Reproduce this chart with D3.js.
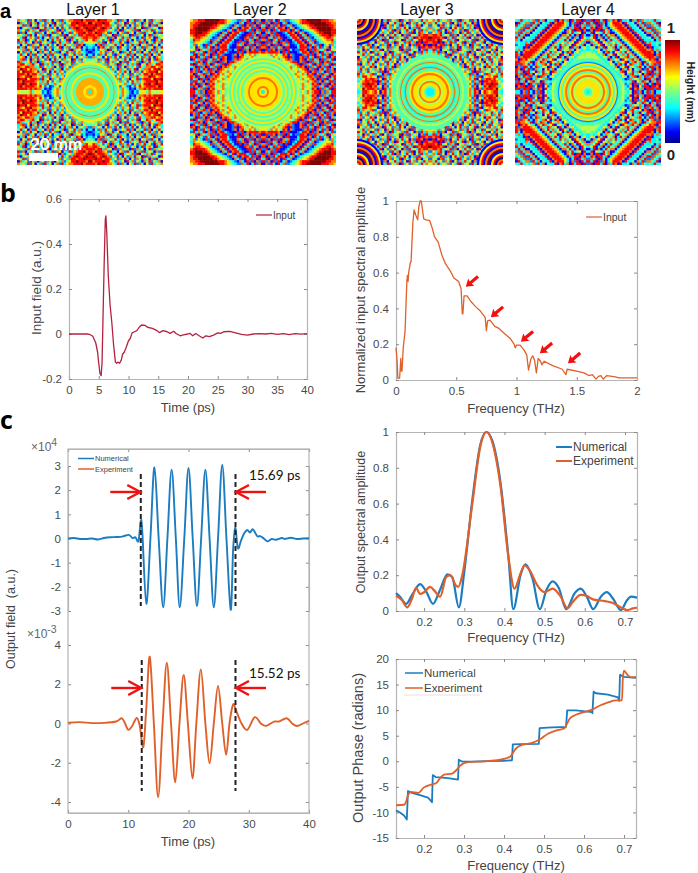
<!DOCTYPE html>
<html>
<head>
<meta charset="utf-8">
<script src="https://cdnjs.cloudflare.com/ajax/libs/d3/7.8.5/d3.min.js"></script>
<style>
    body { margin: 0; background: white; }
    svg { display: block; }
    text { font-family: "Liberation Sans", Arial, sans-serif; fill: #444; }
    .lato { font-family: Lato, sans-serif; fill: #111; }
    .letter { font-family: "Open Sans", sans-serif; font-weight: 700; font-size: 25px; fill: black; }
    .tick text { font-size: 11.5px; fill: #4a4a4a; font-family: "Liberation Sans", Arial, sans-serif; }
    .tick line { stroke: #8a8a8a; }
    .domain { stroke: #b4b4b4; }
</style>
</head>
<body>
<div id="my_dataviz"></div>

<script>
    // height maps: lower right quadrant, read by eye, digit = height in ninths, mirrored into the other three
    const layer1Grid = [
        "55555 55555 55476 42132 56647 55556", "55555 55555 55375 31214 77878 78888", "55555 55555 55264 21426 86788 88798",
        "55555 55555 55647 34273 75889 78988", "55555 55555 54736 25847 36788 88978", "55555 55555 47263 71648 27888 69889",
        "55555 55555 26374 62738 46779 88678", "55555 55556 37426 38263 74887 97888", "55555 55554 26738 41627 38678 88968",
        "55555 55637 41736 27481 63778 68897", "55555 54726 38261 74362 84377 88678", "55556 37264 71836 24738 16487 36887",
        "55473 62847 36172 83647 21738 64378", "44627 38164 72638 41726 38471 62873", "27364 16273 84162 73841 62738 41763",
        "31427 38462 17364 82716 34827 16384", "12347 62748 36127 48362 71648 37261", "21326 47183 62734 16283 74163 82746",
        "32417 83627 41863 27416 38274 61738", "43178 27364 83716 24837 16472 83614", "56473 81627 43862 17364 82716 38472",
        "68736 24718 36274 83162 74836 21748", "78874 63827 16483 72641 38267 41836", "88788 37461 82736 41827 36148 27364",
        "87988 76283 41672 83614 72836 41728", "98788 87364 27183 64728 16374 82637", "89878 98726 38416 27384 61827 36418",
        "88988 78873 62748 31627 48361 72846", "97888 98864 27361 84726 31748 26371", "88798 88776 38274 16382 74162 83647"
    ]
    const layer2Grid = [
        "55555 55555 55555 46475 78817 27388", "55555 55555 55556 47564 87182 73818", "55555 55555 55555 57465 78273 81782",
        "55555 55555 55555 47564 87817 28178", "55555 55555 55556 56475 78271 73882", "55555 55555 55546 47567 87182 81738",
        "55555 55555 55567 46578 72817 38178", "55555 55555 55476 57487 81728 73817", "55555 55555 56467 46781 78273 18278",
        "55555 55555 47564 67817 28178 38271", "55555 55546 57467 87182 73817 28173", "55555 55674 65478 18273 81782 73818",
        "55555 46756 47881 72818 27381 78273", "55555 57467 87211 78172 83718 27381", "55547 64678 18211 78283 71827 38178",
        "66475 76487 17211 12782 81738 27183", "87888 87182 81112 38871 82718 37382", "18287 17281 83122 88718 28734 71846",
        "78172 83718 81113 88827 18382 47163", "82718 28173 71123 88718 37281 36274", "18283 71872 81238 87183 71234 56673",
        "72817 38218 11388 71837 28345 67784", "81738 27811 23887 18372 13456 78875", "28172 88112 38871 83712 34678 88987",
        "17382 81123 88718 37123 46788 99988", "82718 23888 71837 12345 67899 99988", "71828 38871 83712 34567 88999 99987",
        "38172 87182 37123 45678 89999 99887", "82718 28137 12346 78889 99999 98877", "17283 18372 23456 78899 99998 88776"
    ]
    const layer3Grid = [
        "55555 55555 55555 57487 16876 78843", "55555 55555 55555 67381 72788 87964", "55555 55555 55555 46271 63879 88736",
        "55555 55555 55555 57382 71788 98845", "55555 55555 55555 46273 81887 88763", "55555 55555 55555 67481 62788 78634",
        "55555 55555 55555 47372 81467 68847", "55555 55555 55556 38271 36287 46738", "55555 55555 55547 63818 27364 83627",
        "55555 55555 55463 72716 84736 27483", "55555 55555 46371 84726 36178 46273", "55555 55547 36271 63847 26384 73618",
        "55555 54628 37416 73826 47163 84627", "55555 47361 74826 38472 61738 26478", "55546 38274 16837 26481 73628 47361",
        "66473 62817 46273 84716 38264 73846", "47382 71638 27463 81726 47381 62748", "38271 46382 71846 37261 84736 27163",
        "87881 73627 48163 72846 31728 46837", "18178 82716 38472 61837 26417 83627", "78818 17387 26481 73826 47163 82741",
        "88798 46273 81647 36281 74826 37164", "98887 81738 26473 81627 38461 72836", "78878 36482 71638 47261 83746 27384",
        "26378 41827 36174 82637 41826 37481", "47382 61748 36271 84736 27481 63728", "73648 27316 84726 37418 62738 41672",
        "26417 83624 71836 27481 63748 27361", "74836 27481 62738 46172 83647 18263", "57483 64726 38174 62837 41627 38472"
    ]
    const layer4Grid = [
        "55555 55555 55555 43518 27138 27133", "55555 55555 55555 34817 83718 88288", "55555 55555 55555 32618 16288 18871",
        "55555 55555 55555 23718 27381 38188", "55555 55555 55554 34381 63874 17382", "55555 55555 55543 12736 47318 83718",
        "55555 55555 55436 41378 17382 78371", "55555 55555 54346 13784 36178 18278", "55555 55555 43478 16483 71638 81738",
        "55555 55554 36417 38614 37128 38178", "55555 55543 47136 81463 78413 88271", "55555 55436 41783 16873 47138 47828",
        "55555 54346 13746 81378 47183 67788", "55555 43417 36418 63784 71346 87817", "55554 36471 38164 78347 13678 88728",
        "55543 47136 81637 38471 36788 88178", "54436 41783 16473 84713 67888 87138", "34346 13746 38164 47136 78887 78373",
        "36417 38164 71384 71367 88871 81334", "41736 81637 48347 13678 88718 83342", "17368 16473 63471 36788 87183 73343",
        "73681 47138 34713 67888 71833 34137", "36813 71384 47136 78887 18334 41738", "13817 13847 71367 88871 83341 17383",
        "38164 38471 13678 88718 33417 73827", "17188 18471 36788 87183 34173 38274", "38718 83713 67888 71833 41738 82743",
        "27381 83136 78887 18334 17382 27438", "83818 27136 88871 83341 73827 74381", "28188 38173 87183 34173 82743 43834"
    ]
    // central rings of each layer, outermost first: radius (mm) and height (ninths)
    const layer1RingRadii = [21, 19.6, 17.5, 17.1, 15.7, 13.9, 12.5, 10, 5, 2.9, 1.4]
    const layer1RingValues = [6, 4, 7, 4, 4, 6, 4, 6.5, 6, 6.5, 3]
    const layer2RingRadii = [25.7, 24.3, 22.9, 21.4, 20, 18.6, 17.1, 15.7, 14.3, 12.9, 10.7, 9.3, 4.3, 2.9, 1.4]
    const layer2RingValues = [5, 4, 6, 4, 5, 4, 6, 4, 5, 6, 7, 6, 7, 6, 3]
    const layer3RingRadii = [27.1, 24.3, 22.9, 21.4, 20.7, 18.6, 17.9, 17.1, 15, 13.6, 12.1, 9.3, 7.9, 6.8, 4.3, 2.9]
    const layer3RingValues = [4, 5, 4, 7, 4, 3, 7, 4, 6, 7, 6, 5, 7, 6, 4, 3]
    const layer4RingRadii = [24.3, 22.1, 21.4, 20.7, 19.3, 17.9, 16.4, 15, 13.6, 12.1, 10.7, 8.6, 4.3, 2.9, 1.4]
    const layer4RingValues = [4, 3, 2, 6, 4, 6, 7, 4, 6, 7, 5, 6, 5, 4, 3]
    // layer 3 has fringes centred on its corners
    const layer3CornerRadii = [18.6, 17.1, 15.7, 14.3, 12.9, 11.4, 10, 8.6, 7.1, 5.7, 4.3, 2.9, 1.4]
    const layer3CornerValues = [1, 6, 8, 1, 7, 9, 1, 6, 8, 0, 7, 8, 5]
    const layerNames = ["Layer 1", "Layer 2", "Layer 3", "Layer 4"]

    const jetHeights = [0, 0.11, 0.34, 0.5, 0.64, 0.89, 1]
    const jetColours = ["#00008f", "#0000ff", "#00ffff", "#7fff7f", "#ffff00", "#ff0000", "#800000"]

    // panel b
    const inputTime = [0, 3, 3.5, 4, 4.5, 4.8, 5, 5.2, 5.4, 5.55, 5.7, 5.9, 6.1, 6.2, 6.35, 6.6, 6.9, 7.2, 7.5, 7.8, 8, 8.2, 8.5, 8.8, 9, 9.3, 9.6, 10, 10.3, 10.6, 11, 11.4, 11.8, 12.2, 12.8, 13.2, 14, 14.8, 15.2, 15.8, 16.5, 17, 17.6, 18, 18.7, 19.2, 20, 20.3, 20.8, 21.3, 22, 22.5, 23, 23.6, 24.3, 25, 25.5, 26, 27, 28, 29, 30, 31, 32, 33, 34, 35, 36, 37, 38, 39, 40]
    const inputField = [0, 0, -0.002, -0.01, -0.04, -0.08, -0.13, -0.175, -0.185, -0.13, 0.05, 0.3, 0.51, 0.525, 0.45, 0.26, 0.13, 0.05, -0.05, -0.125, -0.13, -0.125, -0.13, -0.115, -0.09, -0.08, -0.06, -0.03, -0.02, 0.005, 0.01, 0.015, 0.03, 0.04, 0.038, 0.03, 0.025, 0.015, 0.006, 0.015, 0.01, 0.003, 0.012, 0.002, -0.008, -0.004, 0, 0.003, -0.008, 0.002, -0.01, -0.018, -0.008, -0.012, -0.005, 0.005, 0.003, 0.01, 0.012, 0.005, -0.002, -0.005, 0, 0.002, 0, 0.003, -0.002, 0.002, -0.003, 0.002, -0.001, 0.002]
    const inputFreq = [0, 0.01, 0.015, 0.03, 0.04, 0.045, 0.05, 0.06, 0.075, 0.09, 0.095, 0.1, 0.105, 0.12, 0.125, 0.14, 0.15, 0.165, 0.18, 0.19, 0.2, 0.21, 0.23, 0.25, 0.28, 0.3, 0.32, 0.35, 0.38, 0.41, 0.45, 0.48, 0.52, 0.54, 0.55, 0.555, 0.565, 0.59, 0.62, 0.66, 0.7, 0.74, 0.75, 0.76, 0.78, 0.82, 0.85, 0.9, 0.95, 0.98, 0.99, 1, 1.03, 1.06, 1.085, 1.1, 1.12, 1.135, 1.15, 1.165, 1.18, 1.2, 1.21, 1.23, 1.3, 1.38, 1.41, 1.42, 1.5, 1.56, 1.6, 1.63, 1.66, 1.68, 1.7, 1.72, 1.75, 1.82, 1.85, 1.9, 2]
    const inputAmp = [0.18, 0.1, 0.01, 0.01, 0.12, 0.05, 0.05, 0.18, 0.27, 0.55, 0.585, 0.55, 0.6, 0.66, 0.66, 0.88, 0.95, 0.92, 0.895, 0.97, 1, 1, 0.9, 0.895, 0.89, 0.85, 0.8, 0.77, 0.7, 0.65, 0.61, 0.57, 0.55, 0.51, 0.37, 0.37, 0.47, 0.47, 0.44, 0.41, 0.385, 0.35, 0.275, 0.33, 0.335, 0.3, 0.29, 0.26, 0.23, 0.2, 0.18, 0.195, 0.195, 0.17, 0.14, 0.055, 0.12, 0.135, 0.11, 0.04, 0.12, 0.105, 0.085, 0.105, 0.08, 0.06, 0.03, 0.06, 0.05, 0.04, 0.025, 0.03, 0.005, 0.02, 0.025, 0.005, 0.025, 0.018, 0.012, 0.012, 0.012]
    const dipFreq = [0.579, 0.787, 1.036, 1.194, 1.427]
    const dipAmp = [0.521, 0.351, 0.214, 0.149, 0.093]

    // panel c, output pulses
    const numTime = [0, 1, 2, 3, 4, 5, 6, 7, 8, 9, 10.1, 10.7, 11.2, 11.7, 12.1, 12.35, 13, 13.7, 14.35, 15.05, 15.8, 16.5, 17.2, 17.9, 18.55, 19.3, 20, 20.7, 21.4, 22.1, 22.8, 23.5, 24.2, 24.9, 25.6, 26.3, 27, 27.4, 27.75, 28.2, 28.7, 29.2, 29.75, 30.2, 30.7, 31.4, 31.9, 32.5, 33.1, 33.8, 34.5, 35.5, 36, 37, 38, 39, 40]
    const numField = [0, 0.02, -0.02, -0.02, 0, -0.04, 0.02, 0.05, 0.06, 0.08, 0.15, 0.02, 0.05, -0.1, 0.75, 0.2, -2.7, 0.1, 2.94, 0, -2.85, 0, 2.85, 0, -2.85, 0, 2.92, 0, -2.8, 0, 2.85, 0, -2.85, 0, 3.05, 0, -2.95, -0.5, 0.45, -0.4, -0.1, 0.2, 0.35, 0.25, 0.38, 0.1, 0.1, 0, -0.12, -0.02, -0.05, 0.02, -0.02, 0.03, -0.02, 0, 0.01]
    const expTime = [0, 2, 4, 6, 8, 8.9, 9.4, 10, 10.7, 11.4, 11.9, 12.5, 13, 13.57, 14.25, 14.96, 15.7, 16.4, 17.1, 17.8, 18.5, 19.2, 19.9, 20.66, 21.3, 22.05, 22.8, 23.5, 24.2, 24.9, 25.6, 26.25, 26.8, 27.4, 27.9, 28.8, 29.75, 31, 32, 32.9, 34.2, 35, 36.3, 37.2, 38, 39, 40]
    const expField = [0.04, 0.07, 0.02, 0.03, 0.1, 0.27, 0.05, -0.32, -0.1, 0.28, -0.1, -1.2, 0.8, 3.4, 0, -3.76, 0, 3.1, 0, -3, 0, 2.47, 0, -2.8, 0, 2.76, 0, -2.03, 0, 1.91, 0, -1.6, 0, 0.97, 0.65, 0, -0.32, 0.32, 0, -0.12, 0.1, 0.1, 0.27, 0, -0.13, 0, 0.13]
    const numEdges = [12.08, 27.8]
    const expEdges = [12.24, 27.8]

    // panel c, output spectra
    const numSpecFreq = [0.13, 0.14, 0.155, 0.17, 0.19, 0.205, 0.222, 0.24, 0.258, 0.27, 0.2865, 0.3, 0.32, 0.34, 0.355, 0.37, 0.39, 0.41, 0.422, 0.44, 0.452, 0.47, 0.488, 0.505, 0.52, 0.535, 0.554, 0.575, 0.59, 0.605, 0.621, 0.64, 0.655, 0.67, 0.69, 0.705, 0.715, 0.73]
    const numSpecAmp = [0.1, 0.08, 0.04, 0.09, 0.15, 0.11, 0.04, 0.12, 0.205, 0.19, 0.02, 0.22, 0.62, 0.93, 1, 0.95, 0.72, 0.3, 0.01, 0.2, 0.26, 0.18, 0.01, 0.12, 0.165, 0.13, 0.01, 0.1, 0.125, 0.08, 0.01, 0.08, 0.105, 0.07, 0.005, 0.06, 0.08, 0.075]
    const expSpecFreq = [0.13, 0.145, 0.158, 0.17, 0.18, 0.19, 0.2, 0.215, 0.225, 0.24, 0.255, 0.265, 0.28, 0.285, 0.295, 0.32, 0.34, 0.355, 0.37, 0.39, 0.41, 0.425, 0.44, 0.45, 0.465, 0.48, 0.5, 0.52, 0.54, 0.557, 0.57, 0.59, 0.605, 0.62, 0.65, 0.67, 0.69, 0.705, 0.72, 0.73]
    const expSpecAmp = [0.085, 0.06, 0.02, 0.07, 0.13, 0.095, 0.105, 0.135, 0.115, 0.08, 0.19, 0.2, 0.14, 0.135, 0.2, 0.6, 0.92, 1, 0.94, 0.7, 0.3, 0.125, 0.21, 0.255, 0.22, 0.15, 0.105, 0.125, 0.08, 0.015, 0.05, 0.09, 0.085, 0.065, 0.055, 0.045, 0.02, 0.005, 0.015, 0.018]

    // panel c, output phase
    const numPhaseFreq = [0.13, 0.14, 0.15, 0.157, 0.16, 0.17, 0.19, 0.21, 0.22, 0.222, 0.23, 0.26, 0.285, 0.287, 0.295, 0.32, 0.36, 0.4, 0.42, 0.422, 0.44, 0.487, 0.489, 0.52, 0.555, 0.558, 0.58, 0.62, 0.621, 0.624, 0.63, 0.66, 0.685, 0.688, 0.69, 0.7, 0.73]
    const numPhase = [-9.6, -10, -10.6, -11.4, -5.8, -6.2, -6.6, -7.1, -8, -2.7, -3.1, -3.3, -3.6, 0.3, -0.05, -0.05, 0.05, 0.1, 0.2, 3.3, 3.35, 3.4, 6.5, 6.65, 6.7, 9.95, 9.95, 9.6, 9.4, 13.6, 13.3, 13.05, 12.5, 11.8, 16.9, 16.5, 16.3]
    const expPhaseFreq = [0.13, 0.15, 0.155, 0.16, 0.168, 0.185, 0.2, 0.22, 0.23, 0.24, 0.25, 0.27, 0.28, 0.29, 0.31, 0.35, 0.39, 0.415, 0.43, 0.445, 0.47, 0.49, 0.51, 0.53, 0.55, 0.565, 0.58, 0.6, 0.62, 0.64, 0.66, 0.68, 0.695, 0.697, 0.7, 0.71, 0.72, 0.73]
    const expPhase = [-8.6, -8.5, -8, -6.6, -6, -6.2, -5.1, -4.5, -4.3, -3.3, -2.6, -2.4, -1.8, -0.9, -0.15, 0, 0.3, 0.9, 2.5, 3.2, 3.6, 4.3, 5.4, 6, 6.4, 8.4, 9.1, 9.6, 10.1, 10.9, 11.5, 11.9, 11.9, 16, 17.7, 16.8, 16.4, 16.5]

    // tick labels
    const ticksInputField = [-0.2, 0, 0.2, 0.4, 0.6]
    const ticksTime5 = [0, 5, 10, 15, 20, 25, 30, 35, 40]
    const ticksTime10 = [0, 10, 20, 30, 40]
    const ticksAmp = [0, 0.2, 0.4, 0.6, 0.8, 1]
    const ticksInputFreq = [0, 0.5, 1, 1.5, 2]
    const ticksNum = [-3, -2, -1, 0, 1, 2, 3]
    const ticksExp = [-4, -2, 0, 2, 4]
    const ticksOutFreq = [0.2, 0.3, 0.4, 0.5, 0.6, 0.7]
    const ticksPhase = [-15, -10, -5, 0, 5, 10, 15, 20]

    const RED_WINE = "#b5213f"
    const ORANGE = "#e0602a"
    const BLUE = "#1b7cc0"
    const PANEL_HALF_MM = 52.14
    const QUADRANT_CELLS = 30

    var svg = d3.select("#my_dataviz").append("svg")
        .attr("width", 698)
        .attr("height", 873)

    var defs = svg.append("defs")
    defs.append("filter").attr("id", "soft")
        .append("feGaussianBlur").attr("stdDeviation", 0.55)

    var jet = d3.scaleLinear().domain(jetHeights).range(jetColours)

    // one height map. cells come from the digit grid, rings go on top
    function heatPanel(left, top, grid, ringRadii, ringValues, cornerRadii, cornerValues, id) {
        var size = 146
        var n = QUADRANT_CELLS
        var rows = grid.map(function (s) { return s.replace(/ /g, "") })
        var band = d3.scaleBand().domain(d3.range(2 * n)).range([0, size])
        var mm = d3.scaleLinear().domain([-PANEL_HALF_MM, PANEL_HALF_MM]).range([0, size])

        defs.append("clipPath").attr("id", id)
            .append("rect").attr("width", size).attr("height", size)

        var g = svg.append("g")
            .attr("transform", "translate(" + left + "," + top + ")")
            .attr("clip-path", "url(#" + id + ")")
            .append("g").attr("filter", "url(#soft)")

        var cells = []
        rows.forEach(function (row, r) {
            row.split("").forEach(function (v, c) {
                var xs = [n + c, n - 1 - c]
                var ys = [n + r, n - 1 - r]
                xs.forEach(function (ix) {
                    ys.forEach(function (iy) {
                        cells.push({ ix: ix, iy: iy, v: +v / 9 })
                    })
                })
            })
        })
        g.selectAll(".cell").data(cells).enter().append("rect")
            .attr("class", "cell")
            .attr("x", function (d) { return band(d.ix) })
            .attr("y", function (d) { return band(d.iy) })
            .attr("width", band.bandwidth() + 0.4)
            .attr("height", band.bandwidth() + 0.4)
            .attr("fill", function (d) { return jet(d.v) })

        // corner fringes
        var corners = [[-PANEL_HALF_MM, -PANEL_HALF_MM], [PANEL_HALF_MM, -PANEL_HALF_MM], [-PANEL_HALF_MM, PANEL_HALF_MM], [PANEL_HALF_MM, PANEL_HALF_MM]]
        corners.forEach(function (c) {
            cornerRadii.forEach(function (rad, i) {
                g.append("circle")
                    .attr("cx", mm(c[0])).attr("cy", mm(c[1]))
                    .attr("r", mm(rad) - mm(0))
                    .attr("fill", jet(cornerValues[i] / 9))
            })
        })

        ringRadii.forEach(function (rad, i) {
            g.append("circle")
                .attr("cx", mm(0)).attr("cy", mm(0))
                .attr("r", mm(rad) - mm(0))
                .attr("fill", jet(ringValues[i] / 9))
        })
    }

    heatPanel(17, 19, layer1Grid, layer1RingRadii, layer1RingValues, [], [], "clip1")
    heatPanel(190, 19, layer2Grid, layer2RingRadii, layer2RingValues, [], [], "clip2")
    heatPanel(357, 19, layer3Grid, layer3RingRadii, layer3RingValues, layer3CornerRadii, layer3CornerValues, "clip3")
    heatPanel(515, 19, layer4Grid, layer4RingRadii, layer4RingValues, [], [], "clip4")

    var layerCentres = [93, 260, 427, 588]
    layerNames.forEach(function (name, i) {
        svg.append("text")
            .attr("x", layerCentres[i]).attr("y", 14.6)
            .attr("text-anchor", "middle")
            .style("font-size", "16px").style("fill", "#111")
            .text(name)
    })

    // scale bar
    svg.append("rect").attr("x", 29).attr("y", 153).attr("width", 29).attr("height", 8).attr("fill", "white")
    svg.append("text").attr("class", "lato")
        .attr("x", 30).attr("y", 150)
        .style("font-size", "17px").style("font-weight", 700).style("fill", "white")
        .text("20 mm")

    // colour bar
    var grad = defs.append("linearGradient").attr("id", "jetBar")
        .attr("x1", 0).attr("x2", 0).attr("y1", 1).attr("y2", 0)
    jetHeights.forEach(function (h, i) {
        grad.append("stop").attr("offset", h).attr("stop-color", jetColours[i])
    })
    svg.append("rect").attr("x", 665).attr("y", 40).attr("width", 15).attr("height", 103).attr("fill", "url(#jetBar)")
    svg.append("text").attr("x", 671).attr("y", 33).attr("text-anchor", "middle")
        .style("font-size", "15px").style("font-weight", 700).style("fill", "#222").text("1")
    svg.append("text").attr("x", 671).attr("y", 160).attr("text-anchor", "middle")
        .style("font-size", "15px").style("font-weight", 700).style("fill", "#222").text("0")
    svg.append("text").attr("transform", "translate(687,92) rotate(90)")
        .attr("text-anchor", "middle")
        .style("font-size", "10.5px").style("font-weight", 700).style("fill", "#222")
        .text("Height (mm)")

    // panel letters
    svg.append("text").attr("x", 0).attr("y", 18.3)
        .style("font-size", "20px").style("font-weight", 700).style("fill", "black").text("a")
    svg.append("text").attr("class", "letter").attr("x", 0).attr("y", 202).text("b")
    svg.append("text").attr("class", "letter").attr("x", 0).attr("y", 429).text("c")

    // box with MATLAB like inward ticks
    function box(left, top, right, bottom, x, y, xTicks, yTicks) {
        var g = svg.append("g")
        var plain = function (d) { return String(d) }
        var empty = function () { return "" }
        g.append("g").attr("transform", "translate(0," + bottom + ")")
            .call(d3.axisBottom(x).tickValues(xTicks).tickSize(-3).tickPadding(7).tickFormat(plain))
        g.append("g").attr("transform", "translate(0," + top + ")")
            .call(d3.axisTop(x).tickValues(xTicks).tickSize(-3).tickFormat(empty))
        g.append("g").attr("transform", "translate(" + right + ",0)")
            .call(d3.axisRight(y).tickValues(yTicks).tickSize(-3).tickFormat(empty))
        g.append("g").attr("transform", "translate(" + left + ",0)")
            .call(d3.axisLeft(y).tickValues(yTicks).tickSize(-3).tickPadding(7).tickFormat(plain))
        g.selectAll(".domain").attr("stroke-width", 1.2)
        return g
    }

    function curve(xs, ys, x, y, colour, width, kind) {
        var line = d3.line()
            .x(function (d) { return x(d[0]) })
            .y(function (d) { return y(d[1]) })
            .curve(kind || d3.curveLinear)
        svg.append("path")
            .attr("d", line(d3.zip(xs, ys)))
            .attr("fill", "none")
            .attr("stroke", colour)
            .attr("stroke-width", width)
            .attr("stroke-linejoin", "round")
    }

    function xLabel(cx, y, s) {
        svg.append("text").attr("x", cx).attr("y", y).attr("text-anchor", "middle")
            .style("font-size", "13px").text(s)
    }
    function yLabel(x, cy, s, size) {
        svg.append("text").attr("transform", "translate(" + x + "," + cy + ") rotate(-90)")
            .attr("text-anchor", "middle").attr("xml:space", "preserve")
            .style("font-size", (size || 12.5) + "px").text(s)
    }
    function legendRow(x0, x1, y, colour, width, s, size) {
        svg.append("line").attr("x1", x0).attr("x2", x1).attr("y1", y).attr("y2", y)
            .attr("stroke", colour).attr("stroke-width", width)
        svg.append("text").attr("x", x1 + 1).attr("y", y + size * 0.36)
            .style("font-size", size + "px").text(s)
    }

    // b, input field
    var xTimeB = d3.scaleLinear().domain([0, 40]).range([69, 307])
    var yInput = d3.scaleLinear().domain([-0.2, 0.6]).range([379, 199])
    box(69, 199, 307, 379, xTimeB, yInput, ticksTime5, ticksInputField)
    curve(inputTime, inputField, xTimeB, yInput, RED_WINE, 1.3)
    legendRow(256, 272, 215, RED_WINE, 1.2, "Input", 10)
    xLabel(188, 412, "Time (ps)")
    yLabel(41, 288, "Input field (a.u.)", 13.5)

    // b, input spectrum
    var xInFreq = d3.scaleLinear().domain([0, 2]).range([396, 637])
    var yInAmp = d3.scaleLinear().domain([0, 1]).range([380, 201])
    box(396, 201, 637, 380, xInFreq, yInAmp, ticksInputFreq, ticksAmp)
    curve(inputFreq, inputAmp, xInFreq, yInAmp, ORANGE, 1.3)
    legendRow(586, 602, 217, ORANGE, 1.2, "Input", 10.5)
    xLabel(516, 413, "Frequency (THz)")
    yLabel(365, 290, "Normalized input spectral amplitude", 13)

    // little red arrows pointing at the dips
    var arrowHead = "M0,0 L9,-6 L8,-2 L20,-2 L20,2 L8,2 L9,6 Z"
    svg.selectAll(".dip").data(d3.zip(dipFreq, dipAmp)).enter().append("path")
        .attr("class", "dip")
        .attr("d", arrowHead)
        .attr("fill", "#f01010")
        .attr("transform", function (d) { return "translate(" + xInFreq(d[0]) + "," + yInAmp(d[1]) + ") rotate(-40) scale(0.8)" })

    // c, output pulses share one frame
    var xTimeC = d3.scaleLinear().domain([0, 40]).range([68, 309])
    var yNum = d3.scaleLinear().domain([-3, 3]).range([611, 466])
    var yExp = d3.scaleLinear().domain([-4, 4]).range([802, 645])
    var frame = box(68, 449, 309, 813, xTimeC, yNum, ticksTime10, ticksNum)
    frame.append("g").attr("transform", "translate(68,0)")
        .call(d3.axisLeft(yExp).tickValues(ticksExp).tickSize(-3).tickPadding(7).tickFormat(function (d) { return String(d) }))
        .select(".domain").remove()
    frame.append("g").attr("transform", "translate(309,0)")
        .call(d3.axisRight(yExp).tickValues(ticksExp).tickSize(-3).tickFormat(function () { return "" }))
        .select(".domain").remove()
    // the two left/right axes stop at their own ticks, so close the frame
    frame.append("rect").attr("x", 68).attr("y", 449).attr("width", 241).attr("height", 364)
        .attr("fill", "none").attr("stroke", "#b4b4b4").attr("stroke-width", 1.2)

    curve(numTime, numField, xTimeC, yNum, BLUE, 1.9, d3.curveCatmullRom.alpha(0))
    curve(expTime, expField, xTimeC, yExp, ORANGE, 1.9, d3.curveCatmullRom.alpha(0))

    legendRow(78, 94, 458.5, BLUE, 1.5, "Numerical", 7.5)
    legendRow(78, 94, 469, ORANGE, 1.5, "Experiment", 7.5)

    function timesTen(x, y, power) {
        var t = svg.append("text").attr("x", x).attr("y", y).style("font-size", "12px").style("fill", "#666")
        t.append("tspan").text("\u00d710")
        t.append("tspan").attr("dy", -5).style("font-size", "10.5px").text(power)
    }
    timesTen(31, 451, "4")
    timesTen(27, 638, "-3")

    yLabel(15, 619, "Output field  (a.u.)")
    xLabel(188, 846, "Time (ps)")

    // pulse width markers
    function marker(edges, y0, y1, arrowY, label, labelY) {
        edges.forEach(function (t) {
            svg.append("line")
                .attr("x1", xTimeC(t)).attr("x2", xTimeC(t))
                .attr("y1", y0).attr("y2", y1)
                .attr("stroke", "#222").attr("stroke-width", 2)
                .attr("stroke-dasharray", "5,3")
        })
        var head = function (x, dir) {
            var tail = x - dir * 30
            svg.append("line").attr("x1", tail).attr("x2", x - dir * 2).attr("y1", arrowY).attr("y2", arrowY)
                .attr("stroke", "#f01010").attr("stroke-width", 2.4)
            svg.append("path")
                .attr("d", "M" + (x - dir * 13) + "," + (arrowY - 7) + " L" + x + "," + arrowY + " L" + (x - dir * 13) + "," + (arrowY + 7))
                .attr("fill", "none").attr("stroke", "#f01010").attr("stroke-width", 2.4)
        }
        head(xTimeC(edges[0]) - 0.5, 1)
        head(xTimeC(edges[1]) + 0.5, -1)
        svg.append("text").attr("class", "lato")
            .attr("x", 249).attr("y", labelY)
            .style("font-size", "13.5px")
            .text(label)
    }
    marker(numEdges, 474, 606, 492, "15.69 ps", 480)
    marker(expEdges, 660, 791, 688, "15.52 ps", 678)

    // c, output spectrum
    var xOutA = d3.scaleLinear().domain([0.13, 0.73]).range([396, 637])
    var yOutA = d3.scaleLinear().domain([0, 1]).range([611, 432])
    box(396, 432, 637, 611, xOutA, yOutA, ticksOutFreq, ticksAmp)
    curve(numSpecFreq, numSpecAmp, xOutA, yOutA, BLUE, 2.2, d3.curveMonotoneX)
    curve(expSpecFreq, expSpecAmp, xOutA, yOutA, ORANGE, 2.2, d3.curveMonotoneX)
    legendRow(556, 572, 447, BLUE, 2, "Numerical", 12)
    legendRow(556, 572, 461, ORANGE, 2, "Experiment", 12)
    yLabel(365, 522, "Output spectral amplitude")
    xLabel(516, 642, "Frequency (THz)")

    // c, output phase
    var xOutP = d3.scaleLinear().domain([0.13, 0.73]).range([396, 636])
    var yPhase = d3.scaleLinear().domain([-15, 20]).range([838, 659])
    box(396, 659, 636, 838, xOutP, yPhase, ticksOutFreq, ticksPhase)
    curve(numPhaseFreq, numPhase, xOutP, yPhase, BLUE, 1.8)
    curve(expPhaseFreq, expPhase, xOutP, yPhase, ORANGE, 1.8, d3.curveMonotoneX)
    legendRow(405, 423, 673, BLUE, 1.5, "Numerical", 11.5)
    legendRow(405, 423, 688, ORANGE, 1.5, "Experiment", 11.5)
    // the legend box in the figure cuts its last row off
    svg.append("rect").attr("x", 404).attr("y", 692).attr("width", 80).attr("height", 4).attr("fill", "white")
    svg.append("line").attr("x1", 404).attr("x2", 480).attr("y1", 695).attr("y2", 695).attr("stroke", "#f0dcdc")
    yLabel(363, 748, "Output Phase (radians)", 14.5)
    xLabel(516, 870, "Frequency (THz)")
</script>
</body>
</html>
